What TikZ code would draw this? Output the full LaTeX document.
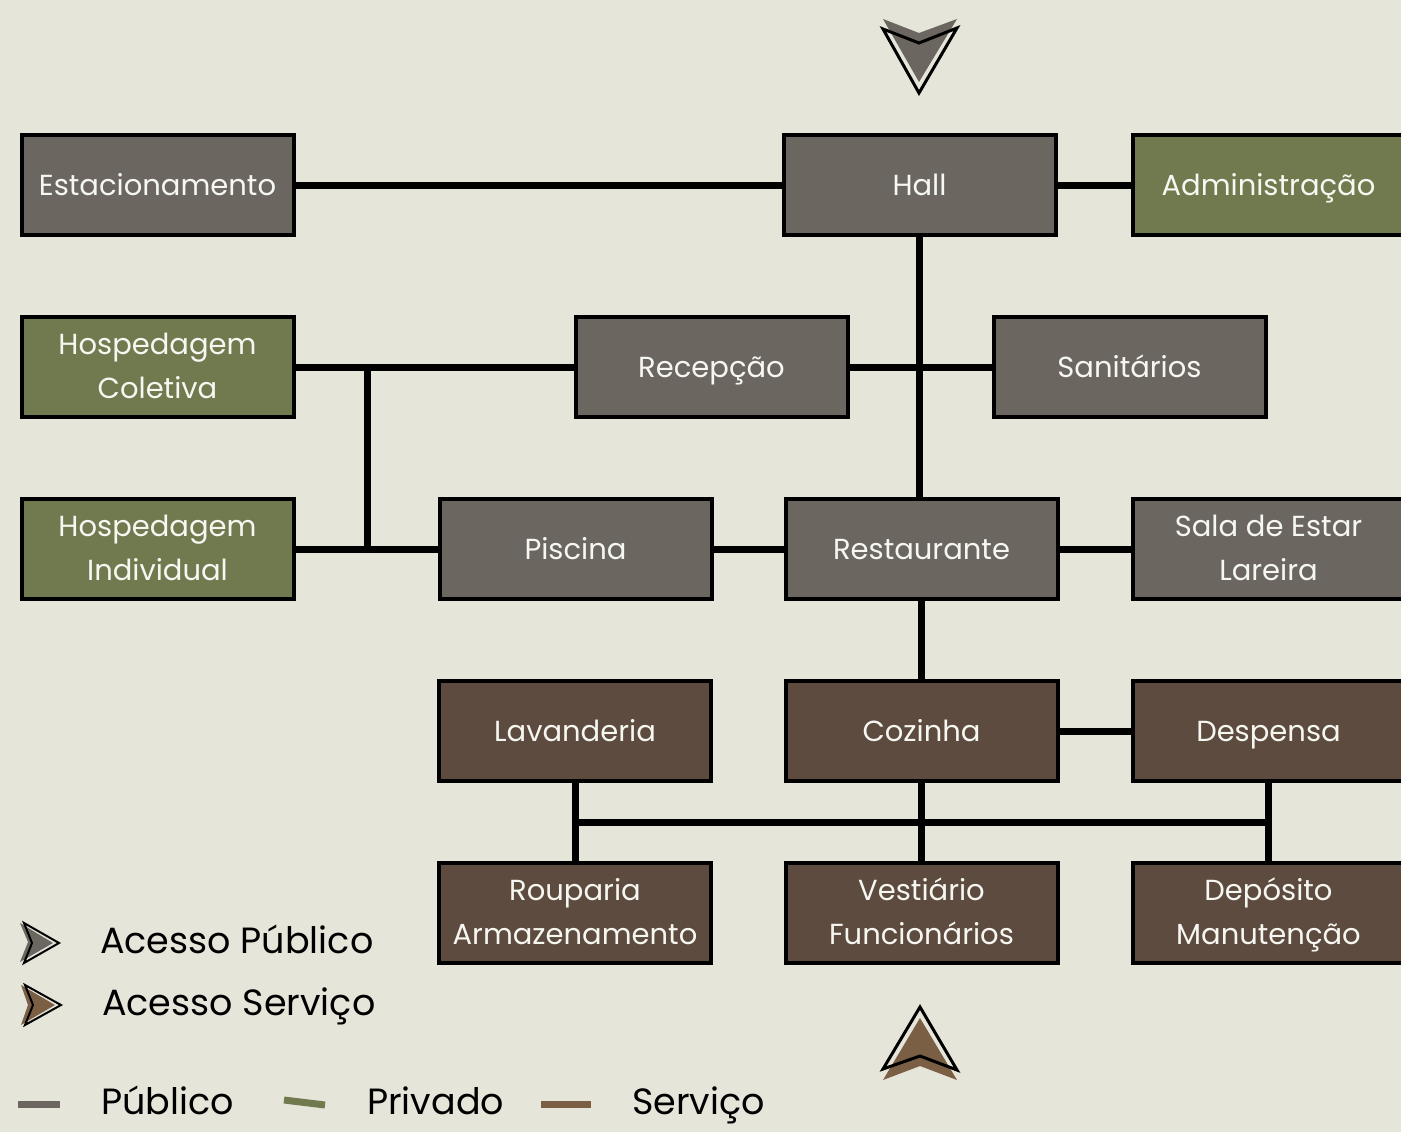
\documentclass[tikz,border=0pt]{standalone}
\usepackage{fontspec}
\setmainfont{Poppins}
\definecolor{bgc}{HTML}{E6E5DA}
\definecolor{pubc}{HTML}{6B6660}
\definecolor{privc}{HTML}{717A4F}
\definecolor{servc}{HTML}{5C4B3E}
\definecolor{servlc}{HTML}{7A5F45}
\definecolor{txtc}{HTML}{F7F7F2}
\tikzset{
  box/.style={draw=black, line width=4pt, minimum width=272pt, minimum height=100pt,
    inner sep=0pt, text=txtc, align=center,
    execute at begin node={\rule{0pt}{29pt}},
    execute at end node={\rule[-8pt]{0pt}{8pt}},
    font=\fontsize{29}{44}\selectfont},
  twoline/.style={execute at begin node={\rule{0pt}{71pt}}},
  pub/.style={box, fill=pubc},
  priv/.style={box, fill=privc},
  serv/.style={box, fill=servc},
  conn/.style={line width=7pt, black},
  legtext/.style={anchor=base west, inner sep=0pt, font=\fontsize{36.5}{40}\selectfont, text=black},
  outl/.style={draw=black, line width=3pt, line join=miter},
}
\begin{document}
\begin{tikzpicture}[x=1pt,y=-1pt]
\useasboundingbox (0,0) rectangle (1401,1132);
\fill[bgc] (0,0) rectangle (1401,1132);
\clip (0,0) rectangle (1401,1132);
% nodes
\node[pub]  (est)  at (157.5,185) {Estacionamento};
\node[pub]  (hall) at (919.5,185) {Hall};
\node[priv] (adm)  at (1268.5,185) {Administração};
\node[priv,twoline] (hc)   at (157.5,367) {Hospedagem\\Coletiva};
\node[pub]  (rec)  at (711.5,367) {Recepção};
\node[pub]  (san)  at (1129.5,367) {Sanitários};
\node[priv,twoline] (hi)   at (157.5,549) {Hospedagem\\Individual};
\node[pub]  (pis)  at (575.5,549) {Piscina};
\node[pub]  (res)  at (921.5,549) {Restaurante};
\node[pub,twoline]  (sal)  at (1268.5,549) {Sala de Estar\\Lareira};
\node[serv] (lav)  at (575,731) {Lavanderia};
\node[serv] (coz)  at (921.5,731) {Cozinha};
\node[serv] (desp) at (1268.5,731) {Despensa};
\node[serv,twoline] (rou)  at (575,913) {Rouparia\\Armazenamento};
\node[serv,twoline] (ves)  at (921.5,913) {Vestiário\\Funcionários};
\node[serv,twoline] (dep)  at (1268.5,913) {Depósito\\Manutenção};
% connectors
\coordinate (j1) at (367,367);
\coordinate (j2) at (367,549);
\coordinate (b1) at (575,822);
\coordinate (b2) at (1268.5,822);
\draw[conn] (est) -- (hall);
\draw[conn] (hall) -- (adm);
\draw[conn] (hall.south) -- (hall.south |- res.north);
\draw[conn] (rec) -- (san);
\draw[conn] (hc) -- (rec);
\draw[conn] (j1) -- (j2);
\draw[conn] (hi) -- (pis);
\draw[conn] (pis) -- (res);
\draw[conn] (res) -- (sal);
\draw[conn] (res) -- (coz);
\draw[conn] (coz) -- (desp);
\draw[conn] (lav) -- (rou);
\draw[conn] (coz) -- (ves);
\draw[conn] (desp) -- (dep);
\draw[conn] (b1) -- (b2);
% redraw nodes on top of the connectors
\node[pub]  at (est) {Estacionamento};
\node[pub]  at (hall) {Hall};
\node[priv] at (adm) {Administração};
\node[priv,twoline] at (hc) {Hospedagem\\Coletiva};
\node[pub]  at (rec) {Recepção};
\node[pub]  at (san) {Sanitários};
\node[priv,twoline] at (hi) {Hospedagem\\Individual};
\node[pub]  at (pis) {Piscina};
\node[pub]  at (res) {Restaurante};
\node[pub,twoline]  at (sal) {Sala de Estar\\Lareira};
\node[serv] at (lav) {Lavanderia};
\node[serv] at (coz) {Cozinha};
\node[serv] at (desp) {Despensa};
\node[serv,twoline] at (rou) {Rouparia\\Armazenamento};
\node[serv,twoline] at (ves) {Vestiário\\Funcionários};
\node[serv,twoline] at (dep) {Depósito\\Manutenção};
% top entrance arrow (public)
\fill[pubc] (883,19) -- (919,33) -- (957,19) -- (919,82) -- cycle;
\draw[outl] (883,29) -- (919,43) -- (957,28) -- (919,93) -- cycle;
% bottom entrance arrow (service)
\fill[servlc] (883,1080) -- (920,1066) -- (957,1080) -- (920,1018) -- cycle;
\draw[outl] (883,1069) -- (920,1056) -- (957,1070) -- (920,1007) -- cycle;
% legend arrows
\fill[pubc] (20,923) -- (28,942) -- (20,962) -- (53,943) -- cycle;
\draw[outl, line width=2pt] (24,923) -- (32,943) -- (24,963) -- (59,943) -- cycle;
\fill[servlc] (21,985) -- (28,1005) -- (21,1025) -- (55,1005) -- cycle;
\draw[outl, line width=2pt] (25,985) -- (33,1005) -- (25,1025) -- (61,1005) -- cycle;
\node[legtext] (lp) at (100,953) {Acesso Público};
\node[legtext] (ls) at (102,1015) {Acesso Serviço};
% legend dashes
\draw[line width=7pt, pubc] (18,1104) -- (60,1104);
\draw[line width=7pt, privc] (284,1100) -- (325,1105);
\draw[line width=7pt, servlc] (541,1104) -- (591,1104);
\node[legtext] (l1) at (101,1114) {Público};
\node[legtext] (l2) at (367,1114) {Privado};
\node[legtext] (l3) at (632,1114) {Serviço};
\end{tikzpicture}
\end{document}
